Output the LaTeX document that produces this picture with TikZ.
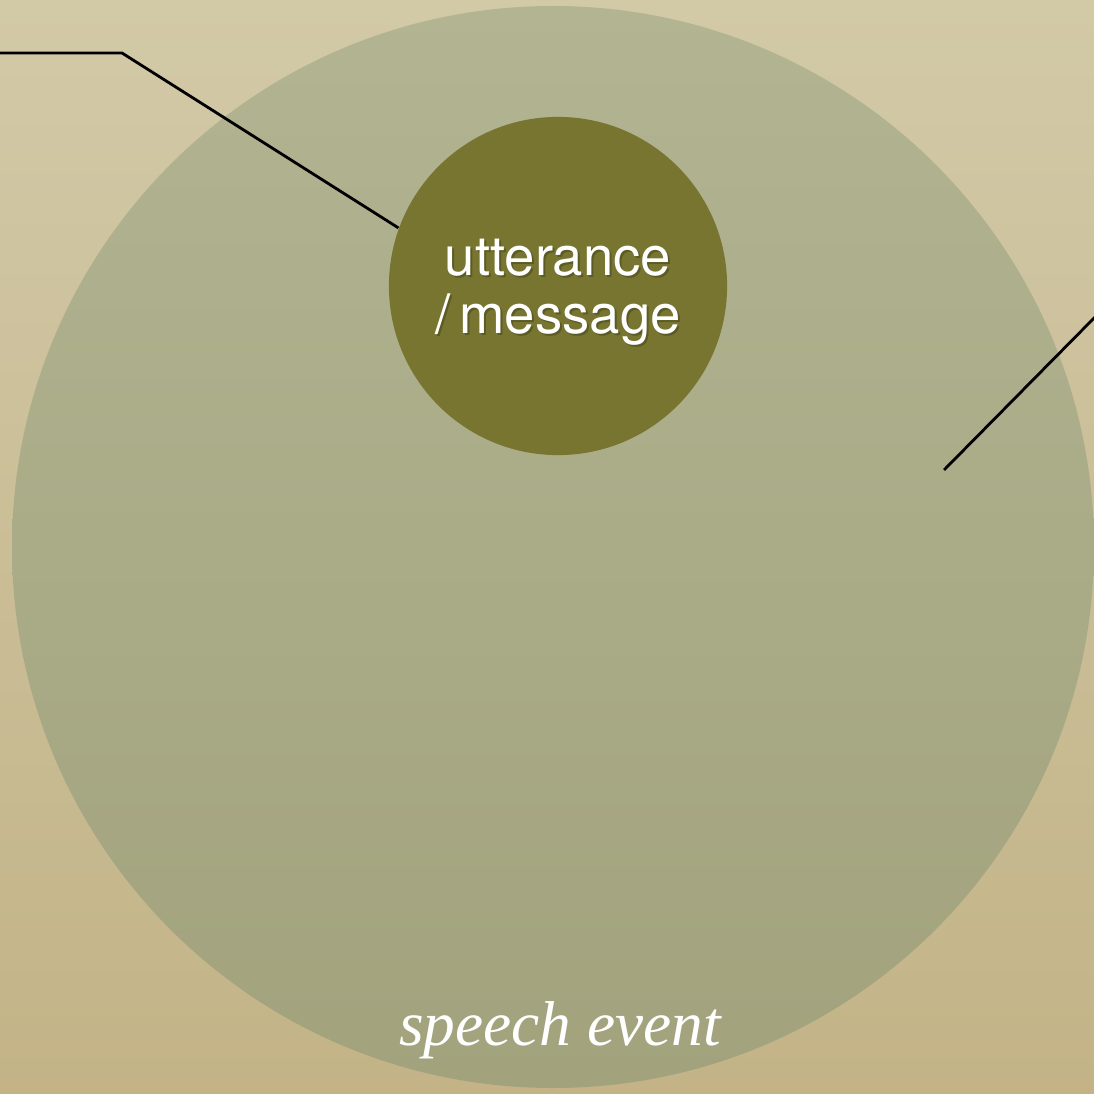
\documentclass[tikz,border=0pt]{standalone}
\usepackage{fontspec}
\setmainfont{Liberation Serif}
\newfontfamily\labelsans{TeX Gyre Heros}
\usepackage{xcolor}
\usepackage{tikz}
\usetikzlibrary{positioning}

\definecolor{paper}{HTML}{D2C9A7}
\definecolor{paperlow}{HTML}{C3B387}
\definecolor{eventtop}{HTML}{B2B492}
\definecolor{eventlow}{HTML}{A2A37D}
\definecolor{olive}{HTML}{777530}

\begin{document}
\begin{tikzpicture}[
    x=0.01cm, y=-0.01cm,
    event/.style={circle, minimum size=10.82cm, inner sep=0pt},
    core/.style={circle, fill=olive, minimum size=3.38cm, inner sep=0pt},
    coretext/.style={align=center, text=white, font=\labelsans\fontsize{15.5}{16.6}\selectfont},
    shadowtext/.style={coretext, text=black, opacity=0.22},
    eventtext/.style={text=white, font=\itshape\fontsize{18}{20}\selectfont},
    pointer/.style={line width=0.8pt, black}
]
    \useasboundingbox (0,0) rectangle (1094,1094);
    \clip (0,0) rectangle (1094,1094);
    \shade[top color=paper, bottom color=paperlow] (0,0) rectangle (1094,1094);

    \shade[top color=eventtop, bottom color=eventlow] (553,547) circle (541);
    \node (speech) [event] at (553,547) {};
    \node (utter) [core] at (558,286) {};

    % labels
    \node [shadowtext] at (560,294) {utterance\\/\,message};
    \node (uttertext) [coretext] at (558,292) {utterance\\/\,message};
    \node (eventlabel) [eventtext, anchor=base] at (560,1045) {speech event};

    % pointers
    \coordinate (leftend) at (0,53);
    \coordinate (leftbend) at (122,53);
    \coordinate (rightend) at (1100,312);
    \coordinate (rightin) at (944,470);
    \draw [pointer] (leftend) -- (leftbend) -- (utter.160);
    \draw [pointer] (rightend) -- (rightin);
\end{tikzpicture}
\end{document}
